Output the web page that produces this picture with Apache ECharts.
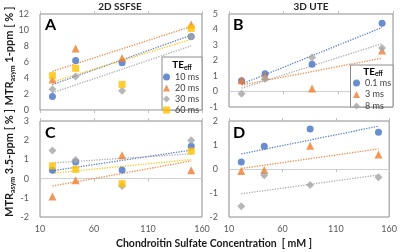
<!DOCTYPE html>
<html>
<head>
<meta charset="utf-8">
<script src="https://cdn.jsdelivr.net/npm/echarts@6/dist/echarts.min.js"></script>
<style>
  html, body { margin: 0; padding: 0; background: #fff; }
  #myChart { width: 400px; height: 252px; }
</style>
</head>
<body>
<div id="myChart"></div>
<script>
// chondroitin sulfate concentration (mM)
const concentration = [21.5, 43, 86, 150];
const xRange = [10, 160, 50];

// 2D SSFSE
const ssfseNames = ['10 ms', '20 ms', '30 ms', '60 ms'];
const ssfse1ppm = [
  [1.7, 6.2, 5.9, 9.2],
  [3.8, 7.7, 6.5, 10.7],
  [2.6, 4.2, 2.4, 9.2],
  [4.3, 5.2, 3.2, 10.2],
];
const ssfse35ppm = [
  [0.43, 0.86, 0.45, 1.69],
  [-0.93, -0.09, 1.22, 0.43],
  [1.47, 0.97, -0.38, 2.0],
  [0.66, 0.48, -0.26, 1.43],
];

// 3D UTE
const uteNames = ['0.1 ms', '3 ms', '8 ms'];
const ute1ppm = [
  [0.7, 1.15, 1.76, 4.4],
  [0.72, 1.0, 0.2, 2.65],
  [-0.15, 0.8, 2.2, 2.8],
];
const ute35ppm = [
  [0.29, 0.95, 1.67, 1.53],
  [-0.08, -0.04, 0.97, 0.6],
  [-1.55, -0.26, -0.67, -0.34],
];

// y axis ranges [min, max, interval] for A, B, C, D
const yRanges = [[0, 12, 2], [-1, 5, 1], [-2, 3, 1], [-2, 2, 1]];

const colors = ['#4472C4', '#ED7D31', '#A5A5A5', '#FFC000'];
const symbols = ['circle', 'triangle', 'diamond', 'rect'];
const symbolSizes = [7, 8, 8, 7];
const FONT = 'Lato';

// Excel style linear trendline (least squares), from first to last point
function fitLine(xs, ys) {
  const n = xs.length;
  const mx = xs.reduce((a, b) => a + b, 0) / n;
  const my = ys.reduce((a, b) => a + b, 0) / n;
  let sxy = 0;
  let sxx = 0;
  xs.forEach((x, i) => {
    sxy += (x - mx) * (ys[i] - my);
    sxx += (x - mx) * (x - mx);
  });
  const k = sxy / sxx;
  return [xs[0], xs[n - 1]].map((x) => [x, my + k * (x - mx)]);
}

const panels = [
  { names: ssfseNames, values: ssfse1ppm, grid: { left: 40, top: 14, width: 162, height: 96 }, labels: false },
  { names: uteNames, values: ute1ppm, grid: { left: 229, top: 14, width: 164, height: 93 }, labels: false },
  { names: ssfseNames, values: ssfse35ppm, grid: { left: 40, top: 121, width: 162, height: 96 }, labels: true },
  { names: uteNames, values: ute35ppm, grid: { left: 229, top: 121, width: 164, height: 96 }, labels: true },
];

const option = {
  animation: false,
  textStyle: { fontFamily: FONT },
  grid: [],
  xAxis: [],
  yAxis: [],
  series: [],
  legend: [
    {
      data: ssfseNames, orient: 'vertical', left: 163, top: 72.5,
      itemWidth: 7, itemHeight: 7, itemGap: 2, padding: 0, z: 12,
      textStyle: { fontFamily: FONT, fontSize: 9, color: '#404040', lineHeight: 7 },
    },
    {
      data: uteNames, orient: 'vertical', left: 353, top: 78.5,
      itemWidth: 7, itemHeight: 7, itemGap: 2.5, padding: 0, z: 12,
      textStyle: { fontFamily: FONT, fontSize: 9, color: '#404040', lineHeight: 7 },
    },
  ],
  graphic: [],
};

panels.forEach((p, i) => {
  const r = yRanges[i];
  option.grid.push({ ...p.grid, show: true, borderColor: '#8c8c8c', borderWidth: 1 });
  const base = { type: 'value', gridIndex: i, min: xRange[0], max: xRange[1], interval: xRange[2], splitLine: { show: false } };
  // labelled axis at the bottom
  option.xAxis.push({
    ...base, position: 'bottom',
    axisLine: { show: false, onZero: false }, axisTick: { show: false },
    axisLabel: { show: p.labels, fontSize: 9, color: '#595959', margin: 8, fontFamily: FONT },
  });
  // zero line, ticks crossing it
  option.xAxis.push({
    ...base,
    axisLine: { show: true, onZero: true, lineStyle: { color: '#d0d0d0', width: 1 } },
    axisTick: { show: true, inside: true, length: 3, lineStyle: { color: '#c0c0c0' } },
    axisLabel: { show: false },
  });
  option.xAxis.push({
    ...base,
    axisLine: { show: false, onZero: true },
    axisTick: { show: true, inside: false, length: 3, lineStyle: { color: '#c0c0c0' } },
    axisLabel: { show: false },
  });
  option.yAxis.push({
    type: 'value', gridIndex: i, min: r[0], max: r[1], interval: r[2],
    splitLine: { show: false }, axisLine: { show: false }, axisTick: { show: false },
    axisLabel: { fontSize: 9, color: '#595959', margin: 11, fontFamily: FONT },
  });

  p.names.forEach((name, s) => {
    const ys = p.values[s];
    option.series.push({
      name: name + ' trend', type: 'line', xAxisIndex: i * 3, yAxisIndex: i,
      data: fitLine(concentration, ys), symbol: 'none', silent: true, z: 1,
      lineStyle: { color: colors[s], width: 1.3, type: 'dotted', opacity: 0.9 },
    });
  });
  p.names.forEach((name, s) => {
    option.series.push({
      name: name, type: 'scatter', xAxisIndex: i * 3, yAxisIndex: i, z: 3,
      data: concentration.map((x, j) => [x, p.values[s][j]]),
      symbol: symbols[s], symbolSize: symbolSizes[s],
      itemStyle: { color: colors[s] },
    });
  });
});

const subRich = {
  m: { fontFamily: FONT, fontSize: 11, fontWeight: 'bold', fill: '#1a1a1a', color: '#1a1a1a', lineHeight: 14 },
  s: { fontFamily: FONT, fontSize: 7, fontWeight: 'bold', fill: '#1a1a1a', color: '#1a1a1a', lineHeight: 6, verticalAlign: 'bottom' },
};
const legendRich = {
  m: { fontFamily: FONT, fontSize: 10, fontWeight: 'bold', color: '#1a1a1a', lineHeight: 12 },
  s: { fontFamily: FONT, fontSize: 6.5, fontWeight: 'bold', color: '#1a1a1a', lineHeight: 5, verticalAlign: 'bottom' },
};

option.graphic = [
  // column titles
  { type: 'text', x: 120, y: 7, z: 20, style: { text: '2D SSFSE', font: 'bold 10px Lato', fill: '#262626', align: 'center', verticalAlign: 'middle' } },
  { type: 'text', x: 311, y: 7, z: 20, style: { text: '3D UTE', font: 'bold 10px Lato', fill: '#262626', align: 'center', verticalAlign: 'middle' } },
  // panel letters
  { type: 'text', x: 45, y: 25, z: 20, style: { text: 'A', font: 'bold 16px Lato', fill: '#000', verticalAlign: 'middle' } },
  { type: 'text', x: 233, y: 25, z: 20, style: { text: 'B', font: 'bold 16px Lato', fill: '#000', verticalAlign: 'middle' } },
  { type: 'text', x: 45, y: 133, z: 20, style: { text: 'C', font: 'bold 16px Lato', fill: '#000', verticalAlign: 'middle' } },
  { type: 'text', x: 233, y: 133, z: 20, style: { text: 'D', font: 'bold 16px Lato', fill: '#000', verticalAlign: 'middle' } },
  // y axis titles
  { type: 'text', x: 9, y: 56, rotation: Math.PI / 2, z: 20,
    style: { text: '{m|MTR}{s|asym}{m| 1-ppm [ % ]}', rich: subRich, align: 'center', verticalAlign: 'middle' } },
  { type: 'text', x: 9, y: 163, rotation: Math.PI / 2, z: 20,
    style: { text: '{m|MTR}{s|asym}{m| 3.5-ppm [ % ]}', rich: subRich, align: 'center', verticalAlign: 'middle' } },
  // x axis title
  { type: 'text', x: 214, y: 244, z: 20,
    style: { text: 'Chondroitin Sulfate Concentration  [ mM ]', font: 'bold 10.5px Lato', fill: '#1a1a1a', align: 'center', verticalAlign: 'middle' } },
  // legend boxes + titles
  { type: 'rect', z: 10, shape: { x: 162, y: 57, width: 40, height: 53 }, style: { fill: '#fff', stroke: '#8c8c8c', lineWidth: 1 } },
  { type: 'text', x: 182, y: 65, z: 11, style: { text: '{m|TE}{s|eff}', rich: legendRich, align: 'center', verticalAlign: 'middle' } },
  { type: 'rect', z: 10, shape: { x: 350.5, y: 65, width: 42.5, height: 42 }, style: { fill: '#fff', stroke: '#8c8c8c', lineWidth: 1 } },
  { type: 'text', x: 373, y: 71.5, z: 11, style: { text: '{m|TE}{s|eff}', rich: legendRich, align: 'center', verticalAlign: 'middle' } },
];

const myChart = echarts.init(document.getElementById('myChart'));
myChart.setOption(option);
</script>
</body>
</html>
